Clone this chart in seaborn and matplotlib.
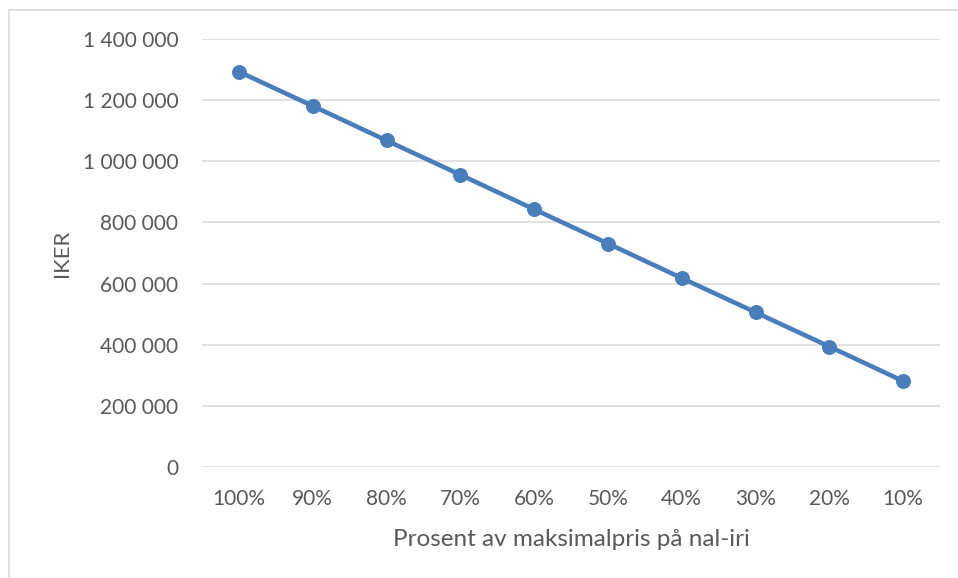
import pandas as pd
import matplotlib
matplotlib.use("Agg")
import matplotlib.pyplot as plt
import matplotlib.ticker as mticker
import seaborn as sns

# Data
prosent = ["100%", "90%", "80%", "70%", "60%", "50%", "40%", "30%", "20%", "10%"]
iker = [1293000, 1181000, 1068000, 956000, 843000, 731000, 618000, 506000, 394000, 281000]
y_ticks = [0, 200000, 400000, 600000, 800000, 1000000, 1200000, 1400000]

df = pd.DataFrame({"Prosent": prosent, "IKER": iker})

sns.set_style("white")
plt.rcParams["font.family"] = ["Lato", "DejaVu Sans"]

text_color = "#595959"
line_color = "#4A7EBB"

fig = plt.figure(figsize=(9.58, 5.78), dpi=100)
ax = fig.add_axes([202 / 958, 1 - 467 / 578, 738 / 958, 428 / 578])

# light chart border like the Excel chart area (right and bottom edges cut off)
border = plt.Rectangle((9 / 958, -0.05), 1.1, 1.05 - 10 / 578, transform=fig.transFigure,
                       fill=False, edgecolor="#D9D9D9", linewidth=1.2, zorder=0)
fig.patches.append(border)

sns.lineplot(data=df, x="Prosent", y="IKER", sort=False, ax=ax,
             color=line_color, linewidth=3.3, marker="o", markersize=10,
             markeredgecolor=line_color, zorder=3)

ax.set_xlim(-0.5, len(prosent) - 0.5)
ax.set_ylim(0, 1400000)
ax.set_yticks(y_ticks)
ax.yaxis.set_major_formatter(mticker.FuncFormatter(lambda v, p: f"{int(v):,}".replace(",", " ")))

ax.grid(axis="y", color="#D9D9D9", linewidth=1.1)
ax.grid(axis="x", visible=False)
for s in ax.spines.values():
    s.set_visible(False)

ax.tick_params(axis="both", length=0, labelsize=15, labelcolor=text_color)
ax.tick_params(axis="y", pad=17)
ax.tick_params(axis="x", pad=16)

ax.set_xlabel("Prosent av maksimalpris på nal-iri", fontsize=17.5, color=text_color, labelpad=14)
ax.set_ylabel("IKER", fontsize=16, color=text_color, labelpad=8)

fig.savefig("out.png", dpi=100)
